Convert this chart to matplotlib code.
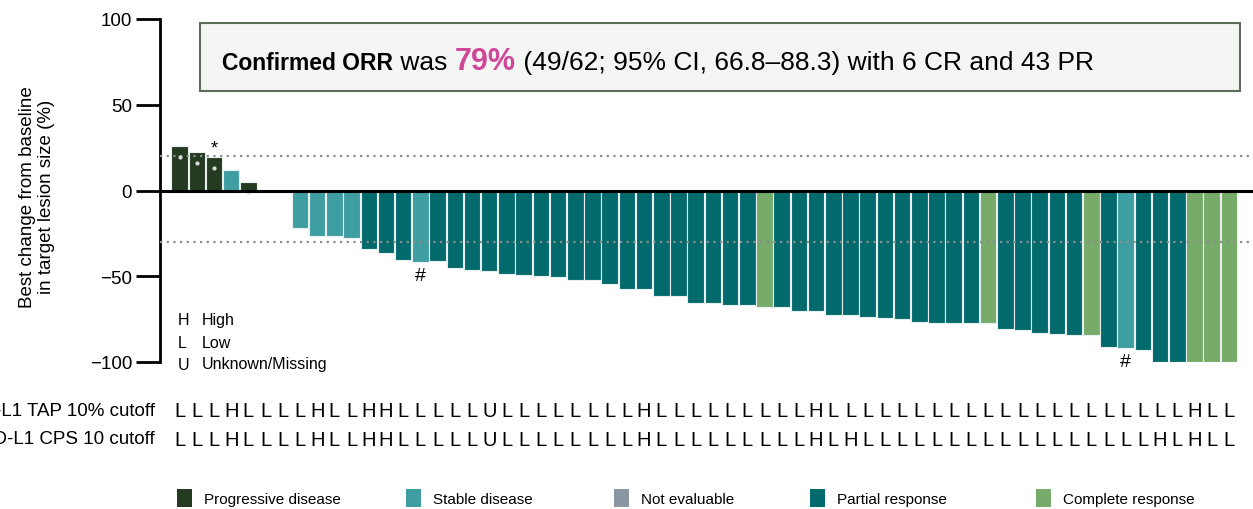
import matplotlib
matplotlib.use("Agg")
import matplotlib.pyplot as plt
from matplotlib.patches import Rectangle
import matplotlib.transforms as mtrans

plt.rcParams['font.family'] = ['Liberation Sans', 'DejaVu Sans']

# best % change per patient (None = no bar)
change = [26, 22.5, 19.5, 12.2, 4.8, None, None, -21.7, -26.6, -26.6, -27.9,
          -33.9, -36.2, -40.7, -41.5, -41.3, -45, -46.3, -47.1, -48.4, -49.0,
          -49.6, -50.2, -52.1, -52.1, -54.8, -57.2, -57.2, -61.8, -61.8, -65.7,
          -65.7, -66.9, -66.9, -68.2, -68.2, -70.2, -70.2, -72.7, -72.7, -73.8,
          -74.6, -75.2, -76.4, -77.1, -77.1, -77.1, -77.1, -81.0, -81.6, -82.8,
          -83.5, -84.1, -84.1, -91.3, -91.9, -93.2, -100, -100, -100, -100, -100]
response = (['PD', 'PD', 'PD', 'SD', 'PD', 'NE', 'NE'] + ['SD'] * 4 + ['PR'] * 3
            + ['SD'] + ['PR'] * 19 + ['CR'] + ['PR'] * 12 + ['CR'] + ['PR'] * 5
            + ['CR', 'PR', 'SD', 'PR', 'PR', 'PR', 'CR', 'CR', 'CR'])
tap = "LLLHLLLLHLLHHLLLLLULLLLLLLLHLLLLLLLLLHLLLLLLLLLLLLLLLLLLLLLHLL"
cps = "LLLHLLLLHLLHHLLLLLULLLLLLLLHLLLLLLLLLHLHLLLLLLLLLLLLLLLLLHLHLL"
dot_idx = [0, 1, 2, 4]
dot_val = [19.6, 16, 13, -1]
star_idx = [2]
hash_idx = [14, 55]

colors = {'PD': '#243b21', 'SD': '#3f9ea1', 'NE': '#8a97a3',
          'PR': '#026a6d', 'CR': '#76ab6a'}
labels = {'PD': 'Progressive disease', 'SD': 'Stable disease',
          'NE': 'Not evaluable', 'PR': 'Partial response',
          'CR': 'Complete response'}

W, H = 1253, 510
fig = plt.figure(figsize=(W / 100, H / 100), dpi=100)
ax = fig.add_axes([160 / W, 1 - 363 / H, 1 - 160 / W, 343 / H])

for i, (v, r) in enumerate(zip(change, response)):
    if v is None:
        continue
    ax.bar(i, v, width=0.96, color=colors[r], edgecolor='#e8efee', linewidth=0.8, zorder=2)

ax.scatter(dot_idx, dot_val, s=9, color='#d9dcdc', zorder=4, linewidths=0)
for i in star_idx:
    ax.text(i, change[i] + 0.5, '*', ha='center', va='bottom', fontsize=13, zorder=5)
for i in hash_idx:
    ax.text(i, change[i] - 3, '#', ha='center', va='top', fontsize=14, zorder=5)

ax.axhline(20, color='#8c8c8c', ls=(0, (1, 2)), lw=1.6, zorder=3)
ax.axhline(-30, color='#8c8c8c', ls=(0, (1, 2)), lw=1.6, zorder=3)
ax.axhline(0, color='black', lw=2.2, zorder=5)

ax.set_xlim(-1.14, 62.4)
ax.set_ylim(-100, 100)
ax.set_yticks([100, 50, 0, -50, -100])
ax.set_yticklabels(['100', '50', '0', '\u221250', '\u2212100'])
ax.tick_params(axis='y', length=17, width=2, labelsize=13.5, pad=3)
ax.set_xticks([])
for s in ['top', 'right', 'bottom']:
    ax.spines[s].set_visible(False)
ax.spines['left'].set_linewidth(2)
ax.set_ylabel('Best change from baseline\nin target lesion size (%)', fontsize=13.5,
              linespacing=1.15)
ax.yaxis.set_label_coords(-0.096, 0.485)

# H / L / U key
key = [('H', 'High'), ('L', 'Low'), ('U', 'Unknown/Missing')]
for k, (a, b) in enumerate(key):
    yy = 1 - (321 + 22 * k) / H
    fig.text(178 / W, yy, a, fontsize=11.5, va='center')
    fig.text(202 / W, yy, b, fontsize=11.5, va='center')

# biomarker rows
tr = mtrans.blended_transform_factory(ax.transData, fig.transFigure)
for row, yp, name in [(tap, 412, 'PD-L1 TAP 10% cutoff'), (cps, 440, 'PD-L1 CPS 10 cutoff')]:
    fig.text(155 / W, 1 - yp / H, name, fontsize=13.5, ha='right', va='center')
    for i, c in enumerate(row):
        ax.text(i, 1 - yp / H, c, transform=tr, fontsize=14.5, ha='center', va='center',
                clip_on=False)

# ORR box
fig.add_artist(Rectangle((200 / W, 1 - 92 / H), 1040 / W, 68 / H, transform=fig.transFigure,
                         facecolor='#f4f6f3', edgecolor='#5c6e5a', lw=1.5))
parts = [('Confirmed ORR', 16.5, 'bold', 'black'),
         (' was ', 19, 'normal', 'black'),
         ('79%', 22, 'bold', '#d0479a'),
         (' (49/62; 95% CI, 66.8\u201388.3) with 6 CR and 43 PR', 19, 'normal', 'black')]
renderer = fig.canvas.get_renderer()
x = 222
for txt, fs, fw, col in parts:
    t = fig.text(x / W, 1 - 70 / H, txt, fontsize=fs, fontweight=fw, color=col,
                 va='baseline')
    x += t.get_window_extent(renderer).width

# response legend
leg_x = [177, 406, 614, 810, 1036]
for x0, key_r in zip(leg_x, ['PD', 'SD', 'NE', 'PR', 'CR']):
    fig.add_artist(Rectangle((x0 / W, 1 - 508 / H), 15 / W, 18 / H, transform=fig.transFigure,
                             facecolor=colors[key_r], edgecolor='none'))
    fig.text((x0 + 27) / W, 1 - 500 / H, labels[key_r], fontsize=11, va='center')

fig.savefig('out.png', dpi=100)
